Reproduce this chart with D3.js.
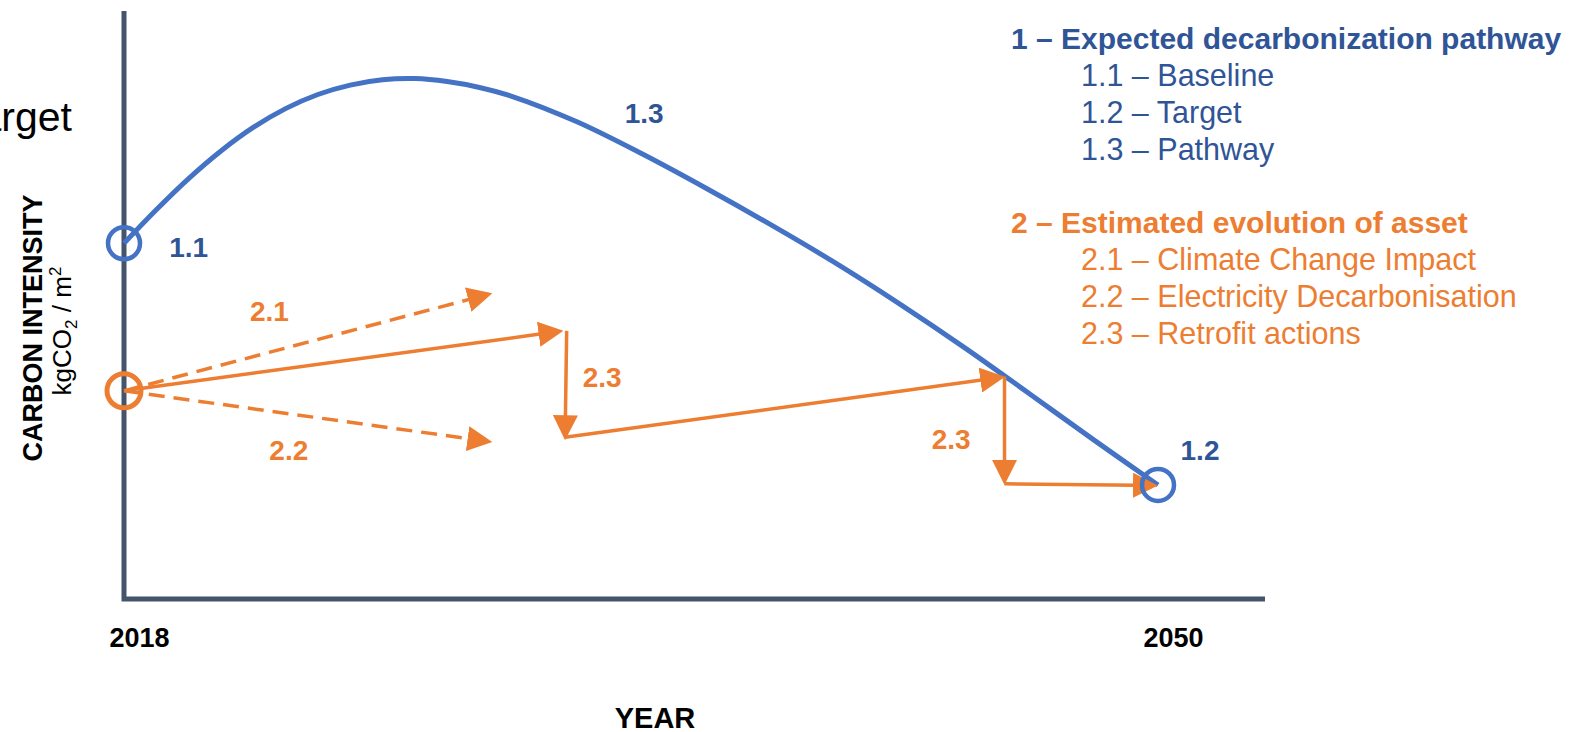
<!DOCTYPE html>
<html>
<head>
<meta charset="utf-8">
<script src="https://cdn.jsdelivr.net/npm/d3@7"></script>
<style>
  html, body { margin: 0; padding: 0; background: #fff; }
  svg { display: block; font-family: "Liberation Sans", Arial, sans-serif; }
</style>
</head>
<body>
<div id="chart"></div>
<script>
// Valores (índice de intensidad: 0 = eje X, 100 = tope del eje Y)
const tickYears = [2018, 2050];

// 1.3 – trayectoria esperada
const pathwayYears = [2018, 2019, 2020, 2021, 2022, 2023, 2024, 2025, 2026, 2027, 2028, 2029, 2030,
  2032, 2034, 2036, 2038, 2040, 2042, 2044, 2046, 2048, 2050];
const pathwayValues = [60.5, 66.2, 71.5, 76.2, 80.2, 83.4, 85.8, 87.4, 88.3, 88.5, 88.0, 87.0, 85.5,
  81.2, 75.8, 69.9, 63.7, 57.2, 50.2, 42.8, 35.0, 27.1, 19.4];

// 2 – evolución estimada del activo (desde, hasta)
const assetStart = 35.4;
const stepFromYears = [2018, 2018, 2018, 2031.7, 2031.65, 2045.25, 2045.25];
const stepFromValues = [35.4, 35.4, 35.4, 45.6, 27.5, 37.8, 19.6];
const stepToYears = [2029.4, 2029.4, 2031.6, 2031.65, 2045.27, 2045.25, 2050];
const stepToValues = [52.0, 26.7, 45.6, 27.0, 37.8, 19.4, 19.3];
const stepDashed = [true, true, false, false, false, false, false];

// etiquetas numéricas sobre el gráfico
const labelText = ["1.1", "1.3", "1.2", "2.1", "2.2", "2.3", "2.3"];
const labelYears = [2020.0, 2034.1, 2051.3, 2022.5, 2023.1, 2032.8, 2043.6];
const labelValues = [59.9, 82.7, 25.3, 49.0, 25.3, 37.8, 27.2];
const labelGroup = [1, 1, 1, 2, 2, 2, 2];

// leyenda
const legendTitles = ["1 – Expected decarbonization pathway", "2 – Estimated evolution of asset"];
const legendItems1 = ["1.1 – Baseline", "1.2 – Target", "1.3 – Pathway"];
const legendItems2 = ["2.1 – Climate Change Impact", "2.2 – Electricity Decarbonisation", "2.3 – Retrofit actions"];

const BLUE = "#4472C4";
const BLUE_DARK = "#2F5597";
const ORANGE = "#ED7D31";
const AXIS = "#44546A";

const width = 1593, height = 732;
const plotRight = 1265;

const svg = d3.select("#chart")
  .append("svg")
  .attr("width", width)
  .attr("height", height);

const x = d3.scaleLinear().domain([2018, 2050]).range([124, 1158]);
const y = d3.scaleLinear().domain([0, 100]).range([599, 11]);

// flecha
svg.append("defs").append("marker")
  .attr("id", "head")
  .attr("markerUnits", "userSpaceOnUse")
  .attr("viewBox", "0 0 25 25")
  .attr("markerWidth", 25)
  .attr("markerHeight", 25)
  .attr("refX", 3)
  .attr("refY", 12.5)
  .attr("orient", "auto")
  .append("path")
  .attr("d", "M0,0L25,12.5L0,25Z")
  .attr("fill", ORANGE);

// texto "Target" cortado a la izquierda (como en el original)
svg.append("text")
  .attr("x", 72)
  .attr("y", 131)
  .attr("text-anchor", "end")
  .style("font-size", "41px")
  .attr("fill", "#000")
  .text("Target");

// ejes
svg.append("path")
  .attr("d", `M${x(2018)},${y(100)}V${y(0)}H${plotRight}`)
  .attr("fill", "none")
  .attr("stroke", AXIS)
  .attr("stroke-width", 5);

const xAxis = d3.axisBottom(x)
  .tickValues(tickYears)
  .tickFormat(d3.format("d"))
  .tickSize(0)
  .tickPadding(29);

svg.append("g")
  .attr("transform", `translate(0,${y(0)})`)
  .call(xAxis)
  .call(g => g.select(".domain").remove())
  .selectAll("text")
  .attr("dx", 15)
  .attr("fill", "#000")
  .style("font-family", '"Liberation Sans", Arial, sans-serif')
  .style("font-size", "27px")
  .style("font-weight", "bold");

svg.append("text")
  .attr("x", 655)
  .attr("y", 728)
  .attr("text-anchor", "middle")
  .style("font-size", "29px")
  .style("font-weight", "bold")
  .text("YEAR");

// título eje Y
const yTitle = svg.append("g");
yTitle.append("text")
  .attr("transform", "translate(42,328) rotate(-90)")
  .attr("text-anchor", "middle")
  .style("font-size", "27px")
  .style("font-weight", "bold")
  .text("CARBON INTENSITY");

const unit = yTitle.append("text")
  .attr("transform", "translate(71,331) rotate(-90)")
  .attr("text-anchor", "middle")
  .style("font-size", "26px");
unit.append("tspan").text("kgCO");
unit.append("tspan").attr("dy", 6).style("font-size", "17px").text("2");
unit.append("tspan").attr("dy", -6).text(" / m");
unit.append("tspan").attr("dy", -10).style("font-size", "17px").text("2");

// 1.3 – curva
const pathway = pathwayYears.map((yr, i) => [yr, pathwayValues[i]]);
svg.append("path")
  .datum(pathway)
  .attr("fill", "none")
  .attr("stroke", BLUE)
  .attr("stroke-width", 5)
  .attr("d", d3.line()
    .x(d => x(d[0]))
    .y(d => y(d[1]))
    .curve(d3.curveCatmullRom.alpha(0.5)));

// flechas naranjas
const steps = stepFromYears.map((yr, i) => {
  const x0 = x(yr), y0 = y(stepFromValues[i]);
  const tx = x(stepToYears[i]), ty = y(stepToValues[i]);
  const len = Math.hypot(tx - x0, ty - y0);
  const cut = 22;
  return {
    x0, y0,
    x1: tx - (tx - x0) / len * cut,
    y1: ty - (ty - y0) / len * cut,
    dashed: stepDashed[i]
  };
});

svg.append("g")
  .selectAll("line")
  .data(steps)
  .enter().append("line")
  .attr("x1", d => d.x0)
  .attr("y1", d => d.y0)
  .attr("x2", d => d.x1)
  .attr("y2", d => d.y1)
  .attr("stroke", ORANGE)
  .attr("stroke-width", 3.5)
  .attr("stroke-dasharray", d => d.dashed ? "16,9" : null)
  .attr("marker-end", "url(#head)");

// círculos
svg.append("circle")
  .attr("cx", x(2018)).attr("cy", y(pathwayValues[0])).attr("r", 16)
  .attr("fill", "none").attr("stroke", BLUE).attr("stroke-width", 4.5);
svg.append("circle")
  .attr("cx", x(2050)).attr("cy", y(pathwayValues[pathwayValues.length - 1])).attr("r", 16)
  .attr("fill", "none").attr("stroke", BLUE).attr("stroke-width", 4.5);
svg.append("circle")
  .attr("cx", x(2018)).attr("cy", y(assetStart)).attr("r", 17)
  .attr("fill", "none").attr("stroke", ORANGE).attr("stroke-width", 5);

// etiquetas
svg.append("g")
  .selectAll("text")
  .data(labelText)
  .enter().append("text")
  .attr("x", (d, i) => x(labelYears[i]))
  .attr("y", (d, i) => y(labelValues[i]))
  .attr("dy", "0.36em")
  .attr("text-anchor", "middle")
  .attr("fill", (d, i) => labelGroup[i] === 1 ? BLUE_DARK : ORANGE)
  .style("font-size", "28px")
  .style("font-weight", "bold")
  .text(d => d);

// leyenda
const legend = svg.append("g");
[[legendItems1, BLUE_DARK], [legendItems2, ORANGE]].forEach(([items, color], g) => {
  const top = 49 + g * 184;
  legend.append("text")
    .attr("x", 1011)
    .attr("y", top)
    .attr("fill", color)
    .style("font-size", "30px")
    .style("font-weight", "bold")
    .text(legendTitles[g]);
  legend.selectAll(null)
    .data(items)
    .enter().append("text")
    .attr("x", 1081)
    .attr("y", (d, i) => top + 37 * (i + 1))
    .attr("fill", color)
    .style("font-size", "30.5px")
    .text(d => d);
});
</script>
</body>
</html>
